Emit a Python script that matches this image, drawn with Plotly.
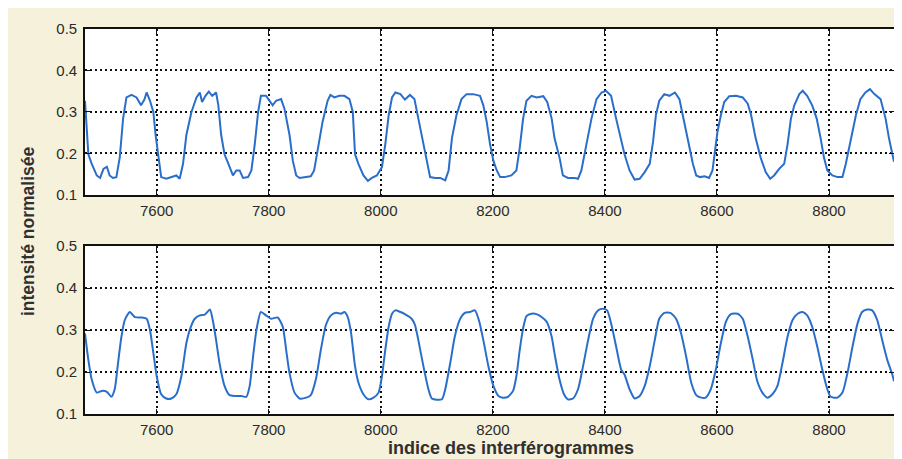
import plotly.graph_objects as go
from plotly.subplots import make_subplots

# Interferogram indices / normalised intensity
top_x = [7472, 7478, 7484, 7493, 7499, 7505, 7511, 7516, 7522, 7528, 7534, 7540, 7546, 7555, 7564, 7572,
         7578, 7582, 7588, 7594, 7598, 7603, 7608, 7617, 7626, 7635, 7641, 7647, 7653, 7662, 7671, 7677,
         7681, 7687, 7693, 7699, 7706, 7710, 7715, 7721, 7728, 7736, 7742, 7748, 7754, 7763, 7769, 7775,
         7781, 7786, 7795, 7801, 7807, 7813, 7822, 7828, 7837, 7843, 7849, 7855, 7864, 7875, 7881, 7887,
         7896, 7905, 7910, 7917, 7926, 7935, 7944, 7950,
         7954, 7960, 7969, 7977, 7984, 7993, 8002, 8008, 8014, 8020, 8026, 8035, 8043, 8052, 8060, 8067,
         8076, 8082, 8088, 8097, 8106, 8115, 8121, 8127, 8135, 8144, 8153, 8165, 8177, 8183, 8189, 8195,
         8201, 8207, 8213, 8221, 8233, 8242, 8248, 8254, 8260, 8269, 8278, 8290, 8297, 8305, 8310, 8319,
         8325, 8334, 8346, 8352, 8358, 8367, 8376, 8385, 8394, 8402, 8411, 8420,
         8435, 8444, 8453, 8462, 8471, 8480, 8486, 8491, 8497, 8506, 8515, 8525, 8533, 8539, 8548, 8557,
         8563, 8570, 8578, 8586, 8592, 8597, 8601, 8607, 8613, 8622, 8634, 8646, 8655, 8661, 8669, 8678,
         8687, 8695, 8702, 8711, 8720, 8726, 8732, 8738, 8747, 8753, 8761, 8770, 8778, 8785, 8791, 8797,
         8806, 8815, 8824, 8830, 8839, 8848, 8856, 8865, 8873, 8881, 8892, 8901, 8907, 8913, 8916]
top_y = [0.327, 0.198, 0.175, 0.147, 0.141, 0.163, 0.168, 0.147, 0.141, 0.143, 0.190, 0.284, 0.335, 0.341, 0.335, 0.316,
         0.330, 0.347, 0.327, 0.300, 0.245, 0.190, 0.143, 0.139, 0.143, 0.147, 0.139, 0.175, 0.245, 0.300, 0.335, 0.347,
         0.324, 0.339, 0.349, 0.339, 0.347, 0.316, 0.245, 0.198, 0.175, 0.147, 0.159, 0.159, 0.141, 0.143, 0.159, 0.222,
         0.300, 0.339, 0.339, 0.327, 0.316, 0.327, 0.331, 0.308, 0.245, 0.182, 0.147, 0.141, 0.143, 0.145, 0.159, 0.206,
         0.276, 0.327, 0.341, 0.335, 0.339, 0.339, 0.331, 0.300,
         0.198, 0.175, 0.147, 0.134, 0.141, 0.147, 0.167, 0.222, 0.292, 0.335, 0.347, 0.343, 0.330, 0.341, 0.331, 0.284,
         0.222, 0.175, 0.143, 0.141, 0.141, 0.135, 0.159, 0.237, 0.292, 0.331, 0.343, 0.343, 0.339, 0.316, 0.276, 0.222,
         0.182, 0.159, 0.143, 0.143, 0.147, 0.159, 0.214, 0.284, 0.327, 0.339, 0.335, 0.338, 0.324, 0.284, 0.237, 0.190,
         0.147, 0.141, 0.141, 0.139, 0.159, 0.222, 0.284, 0.331, 0.347, 0.351, 0.339, 0.284,
         0.198, 0.159, 0.137, 0.139, 0.155, 0.175, 0.229, 0.292, 0.327, 0.343, 0.339, 0.347, 0.331, 0.292, 0.237, 0.175,
         0.147, 0.143, 0.145, 0.141, 0.159, 0.206, 0.253, 0.292, 0.324, 0.338, 0.339, 0.335, 0.320, 0.292, 0.237, 0.190,
         0.155, 0.139, 0.147, 0.163, 0.175, 0.222, 0.284, 0.316, 0.343, 0.351, 0.339, 0.316, 0.284, 0.237, 0.190, 0.159,
         0.147, 0.143, 0.143, 0.175, 0.237, 0.292, 0.331, 0.347, 0.355, 0.343, 0.331, 0.284, 0.237, 0.202, 0.180]

bot_x = [7472, 7478, 7484, 7493, 7502, 7511, 7519, 7525, 7531, 7537, 7543, 7552, 7561, 7573, 7582, 7588,
         7594, 7600, 7608, 7617, 7626, 7635, 7644, 7653, 7661, 7668, 7677, 7686, 7695, 7700, 7706, 7712,
         7721, 7730, 7739, 7751, 7760, 7766, 7772, 7778, 7786, 7795, 7804, 7816, 7825, 7831, 7837, 7846,
         7855, 7867, 7875, 7884, 7893, 7902, 7911, 7920, 7929, 7935, 7941, 7947,
         7954, 7960, 7969, 7978, 7987, 7996, 8002, 8008, 8014, 8020, 8026, 8035, 8043, 8055, 8061, 8067,
         8076, 8085, 8091, 8100, 8109, 8115, 8124, 8132, 8141, 8150, 8159, 8168, 8175, 8183, 8192, 8201,
         8210, 8218, 8227, 8236, 8242, 8248, 8254, 8260, 8269, 8278, 8287, 8296, 8305, 8310, 8319, 8327,
         8334, 8343, 8352, 8361, 8370, 8379, 8388, 8396, 8404, 8411, 8420, 8429,
         8435, 8444, 8453, 8462, 8471, 8480, 8489, 8497, 8506, 8517, 8527, 8536, 8545, 8554, 8563, 8572,
         8580, 8589, 8598, 8607, 8616, 8625, 8637, 8646, 8655, 8664, 8672, 8681, 8690, 8699, 8708, 8717,
         8726, 8735, 8744, 8753, 8761, 8770, 8779, 8788, 8797, 8803, 8815, 8824, 8833, 8842, 8851, 8859,
         8868, 8877, 8886, 8895, 8904, 8913, 8916]
bot_y = [0.292, 0.229, 0.182, 0.151, 0.155, 0.153, 0.141, 0.159, 0.222, 0.284, 0.324, 0.343, 0.331, 0.330, 0.327, 0.300,
         0.245, 0.190, 0.147, 0.137, 0.137, 0.147, 0.190, 0.269, 0.308, 0.327, 0.335, 0.337, 0.349, 0.324, 0.276, 0.222,
         0.167, 0.145, 0.143, 0.143, 0.141, 0.167, 0.237, 0.300, 0.343, 0.335, 0.327, 0.330, 0.308, 0.253, 0.198, 0.151,
         0.137, 0.139, 0.145, 0.182, 0.253, 0.312, 0.335, 0.341, 0.339, 0.343, 0.331, 0.292,
         0.214, 0.175, 0.147, 0.135, 0.139, 0.151, 0.190, 0.253, 0.308, 0.339, 0.347, 0.343, 0.338, 0.327, 0.312, 0.276,
         0.214, 0.159, 0.137, 0.134, 0.135, 0.159, 0.222, 0.284, 0.325, 0.341, 0.343, 0.347, 0.324, 0.276, 0.214, 0.167,
         0.143, 0.139, 0.141, 0.155, 0.190, 0.253, 0.304, 0.333, 0.339, 0.338, 0.331, 0.320, 0.284, 0.245, 0.182, 0.147,
         0.135, 0.137, 0.159, 0.214, 0.276, 0.327, 0.347, 0.351, 0.347, 0.316, 0.261, 0.206,
         0.194, 0.159, 0.137, 0.143, 0.167, 0.214, 0.276, 0.327, 0.341, 0.341, 0.327, 0.292, 0.237, 0.175, 0.145, 0.139,
         0.139, 0.159, 0.206, 0.269, 0.320, 0.338, 0.339, 0.327, 0.284, 0.229, 0.178, 0.151, 0.139, 0.147, 0.167, 0.222,
         0.284, 0.324, 0.339, 0.343, 0.335, 0.308, 0.261, 0.206, 0.159, 0.141, 0.139, 0.151, 0.198, 0.261, 0.316, 0.343,
         0.349, 0.347, 0.324, 0.276, 0.229, 0.194, 0.178]

x_ticks = [7600, 7800, 8000, 8200, 8400, 8600, 8800]
y_ticks = [0.1, 0.2, 0.3, 0.4, 0.5]
x_range = [7472, 8916]
y_range = [0.1, 0.5]

LINE = '#2a6ecb'
INK = '#111111'
CREAM = '#f6f1da'

fig = make_subplots(rows=2, cols=1)
fig.add_trace(go.Scatter(x=top_x, y=top_y, mode='lines',
                         line=dict(color=LINE, width=2)), row=1, col=1)
fig.add_trace(go.Scatter(x=bot_x, y=bot_y, mode='lines',
                         line=dict(color=LINE, width=2, shape='spline', smoothing=0.6)), row=2, col=1)

axis_style = dict(showgrid=True, gridcolor=INK, griddash='2px,3px', gridwidth=1.5,
                  showline=True, linecolor=INK, linewidth=1.6, mirror='all',
                  ticks='inside', ticklen=5, tickcolor=INK, zeroline=False,
                  tickfont=dict(family='Arial', size=15, color='#2b2b2b'))

fig.update_xaxes(range=x_range, tickvals=x_ticks, ticklabelstandoff=1, **axis_style)
fig.update_yaxes(range=y_range, tickvals=y_ticks, tickformat='.1f', ticklabelstandoff=3, **axis_style)
fig.update_layout(yaxis=dict(domain=[0.569, 1.0]), yaxis2=dict(domain=[0.0, 0.436]))

fig.add_annotation(text='<b>intensité normalisée</b>', xref='paper', yref='paper',
                   x=-0.0703, y=0.473, xanchor='center', yanchor='middle', textangle=-90,
                   showarrow=False, font=dict(family='Arial', size=17.5, color='#303030'))
fig.add_annotation(text='<b>indice des interférogrammes</b>', xref='paper', yref='paper',
                   x=0.5265, y=-0.088, xanchor='center', yanchor='middle',
                   showarrow=False, font=dict(family='Arial', size=18, color='#303030'))

# the page body adds an 8px offset, so the figure is 8px smaller than the window
fig.update_layout(width=894, height=451, showlegend=False,
                  margin=dict(l=77, r=6, t=21, b=45),
                  paper_bgcolor=CREAM, plot_bgcolor='white')

fig.write_html("out.html")
